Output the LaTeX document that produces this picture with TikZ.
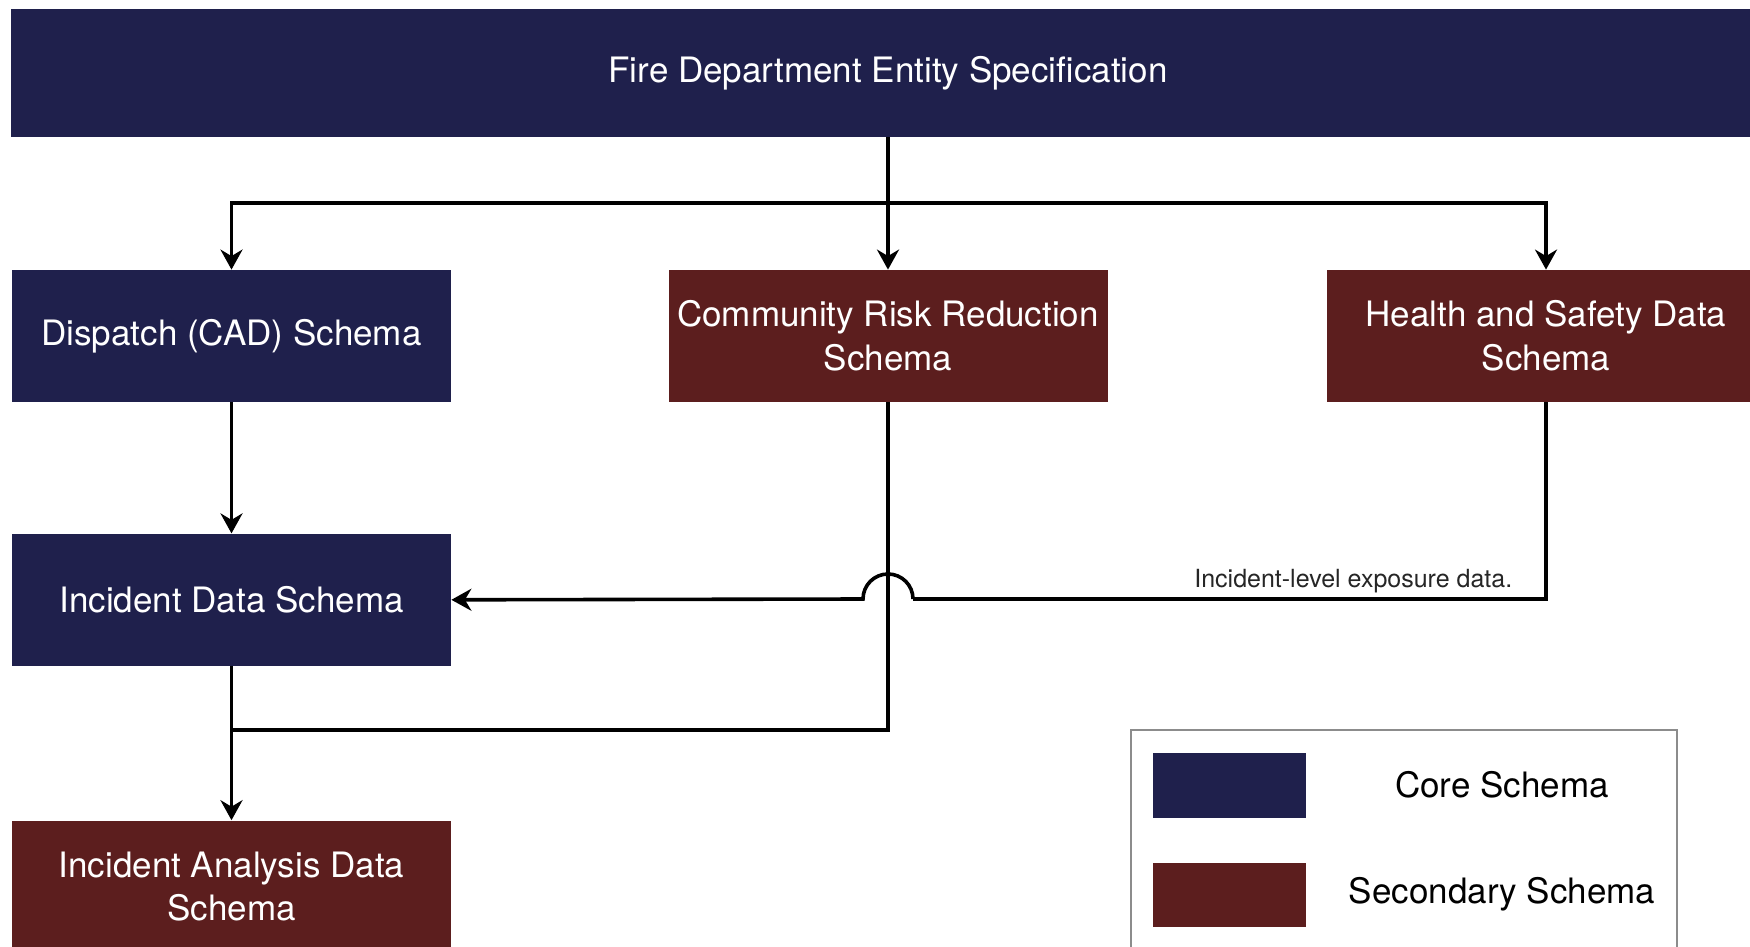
\documentclass[tikz,border=0pt]{standalone}
\usepackage{fontspec}
\setmainfont{TeX Gyre Heros}
\usepackage{tikz}
\usetikzlibrary{positioning,arrows.meta}

\definecolor{coreblue}{RGB}{31,32,76}
\definecolor{secred}{RGB}{92,30,30}

\begin{document}
\begin{tikzpicture}[x=0.5pt, y=-0.5pt,
    schemabox/.style={rectangle, minimum width=219.5pt, minimum height=66pt, inner sep=0pt,
        align=center, text=white, font=\fontsize{17.5}{21.8}\selectfont},
    core/.style={schemabox, fill=coreblue},
    secondary/.style={schemabox, fill=secred},
    link/.style={line width=1.8pt, black},
    arr/.style={link, -{Stealth[length=10pt,width=11pt]}},
    lbl/.style={font=\fontsize{12.5}{15}\selectfont, text=black!85, inner sep=2pt}]
\useasboundingbox[fill=white] (0,0) rectangle (1750,947);

\node[core, minimum width=877pt, minimum height=64pt] (spec) at (888,73) {Fire Department Entity Specification};

\node[core] (dispatch) at (231.5,336) {Dispatch (CAD) Schema};
\node[secondary] (crr) at (888,336) {Community Risk Reduction\\Schema};
\node[secondary] (health) at (1546,336) {Health and Safety Data\\Schema};
\node[core, below=65.5pt of dispatch] (incident) {Incident Data Schema};
\node[secondary, below=77pt of incident] (analysis) {Incident Analysis Data\\Schema};

\coordinate (split) at (888,203);
\coordinate (hsbend) at (1546,599);
\coordinate (jump) at (913,599);
\coordinate (join) at (231.5,730);

% fan out from the specification
\draw[link] (spec) -- (split);
\draw[arr] (split) -| (dispatch);
\draw[arr] (split) -- (crr);
\draw[arr] (split) -| (health);

\draw[arr] (dispatch) -- (incident);

% exposure data jumps over the CRR line
\draw[link] (health) -- (hsbend) -- node[lbl, pos=0, anchor=south east, xshift=-14pt] (exposure) {Incident-level exposure data.} (jump);
\draw[arr] (jump) arc[start angle=0, end angle=180, radius=12.5pt] -- (incident.east);

\draw[link] (crr) |- (join);
\draw[arr] (incident) -- (analysis);

% legend
\node[draw=black!45, line width=1pt, fill=white, minimum width=273pt, minimum height=115pt, inner sep=0pt] (legend) at (1404,845) {};
\node[core, minimum width=76.5pt, minimum height=32.5pt] (corekey) at (1229.5,785.5) {};
\node[secondary, minimum width=76.5pt, minimum height=32pt] (seckey) at (1229.5,895) {};
\node[font=\fontsize{17.5}{21}\selectfont] (corelbl) at (1502,785) {Core Schema};
\node[font=\fontsize{17.5}{21}\selectfont] (seclbl) at (1502,894) {Secondary Schema};

\end{tikzpicture}
\end{document}
